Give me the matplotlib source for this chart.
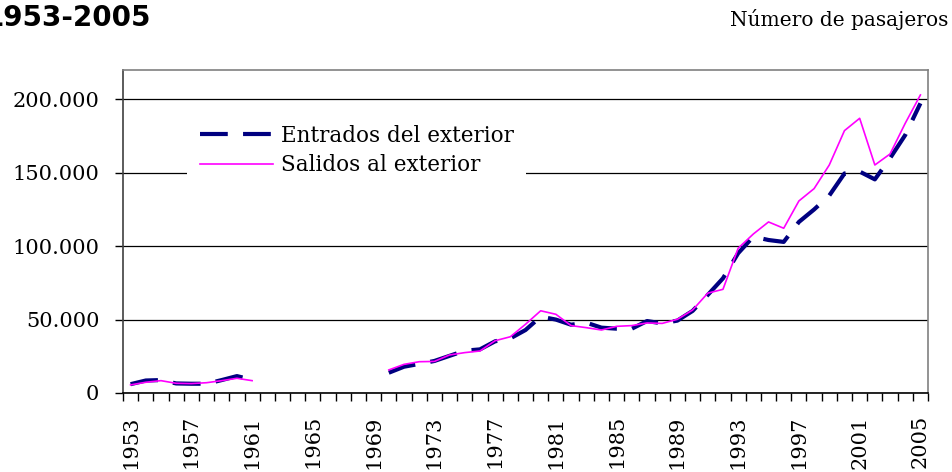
import numpy as np
import matplotlib
matplotlib.use("Agg")
import matplotlib.pyplot as plt
from matplotlib.ticker import FuncFormatter, FixedLocator

nan = np.nan

# --- data ---
years = list(range(1953, 2006))

entrados = [6000, 8500, 8800, 6500, 6300, 6300, 8800, 11500, 9000,
            nan, nan, nan, nan, nan, nan, nan, nan,
            13800, 17900, 19800, 21800, 25300, 28800, 29700, 35200, 37200,
            42900, 52000, 50000, 46500, 47900, 44500, 43800, 43800, 49000,
            47400, 49300, 55900, 66800, 78100, 95200, 106500, 104200, 102900,
            116500, 125000, 134500, 149500, 150800, 145500, 159900, 175700,
            197300]

salidos = [5500, 7300, 8400, 6600, 6400, 7000, 8400, 10000, 8400,
           nan, nan, nan, nan, nan, nan, nan, nan,
           15700, 19500, 21300, 21500, 25900, 27500, 28600, 35600, 38300,
           46800, 56000, 53600, 45900, 44500, 42900, 45400, 45900, 47700,
           47400, 50200, 56500, 68000, 70600, 98600, 108300, 116500, 112200,
           130800, 139200, 155300, 178700, 187100, 155300, 162800, 183700,
           203000]

y_ticks = [0, 50000, 100000, 150000, 200000]
series_labels = ["Entrados del exterior", "Salidos al exterior"]
title_text = "1953-2005"
unit_text = "Número de pasajeros"

SERIF = "DejaVu Serif"
plt.rcParams["lines.scale_dashes"] = False

fig = plt.figure(figsize=(9.52, 4.72), dpi=100)
ax = fig.add_axes([0.1292, 0.1674, 0.8456, 0.6843])

x = np.arange(len(years))
ax.plot(x, entrados, color="#000080", lw=3.0, dashes=(20, 11),
        dash_capstyle="butt", label=series_labels[0], zorder=3)
ax.plot(x, salidos, color="#FF00FF", lw=1.2, label=series_labels[1], zorder=4)

ax.set_xlim(-0.5, len(years) - 0.5)
ax.set_ylim(0, 220000)

# gridlines and ticks
ax.set_yticks(y_ticks)
ax.yaxis.set_major_formatter(FuncFormatter(lambda v, p: f"{int(v):,}".replace(",", ".")))
ax.grid(axis="y", color="black", lw=0.9, zorder=1)
ax.set_axisbelow(True)

ax.xaxis.set_major_locator(FixedLocator(np.arange(-0.5, len(years), 1.0)))
ax.set_xticklabels([])
label_pos = [i for i, yv in enumerate(years) if (yv - 1953) % 4 == 0]
ax.xaxis.set_minor_locator(FixedLocator(label_pos))
ax.set_xticklabels([str(years[i]) for i in label_pos], minor=True,
                   rotation=90, family=SERIF, fontsize=15)
ax.tick_params(axis="x", which="major", direction="out", length=6, width=1)
ax.tick_params(axis="x", which="minor", length=0, pad=16)
ax.tick_params(axis="y", direction="out", length=6, width=1, pad=11,
               labelsize=15)
for lab in ax.get_yticklabels():
    lab.set_family(SERIF)

for side in ("top", "right"):
    ax.spines[side].set_color("#808080")
    ax.spines[side].set_linewidth(1.2)
ax.spines["left"].set_color("#404040")
ax.spines["left"].set_linewidth(1.2)
ax.spines["bottom"].set_color("black")
ax.spines["bottom"].set_linewidth(1.2)

leg = ax.legend(loc="upper left", bbox_to_anchor=(0.0795, 0.87),
                frameon=True, facecolor="white", edgecolor="white",
                framealpha=1, fancybox=False, handlelength=3.4,
                handletextpad=0.35, labelspacing=0.35, borderpad=0.6,
                borderaxespad=0,
                prop={"family": SERIF, "size": 15.5})
leg.get_frame().set_linewidth(0)
leg.set_zorder(5)

fig.text(151 / 952, 1 - 4 / 472, title_text, ha="right", va="top",
         family="DejaVu Sans", weight="bold", fontsize=20)
fig.text(948 / 952, 1 - 9 / 472, unit_text, ha="right", va="top",
         family=SERIF, fontsize=14.5)

fig.savefig("out.png", dpi=100)
